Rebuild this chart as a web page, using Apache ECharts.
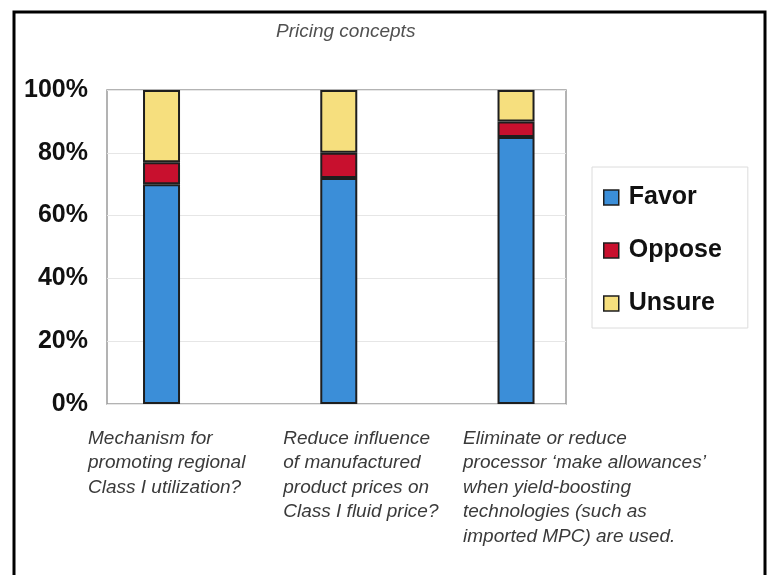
<!DOCTYPE html>
<html>
<head>
<meta charset="utf-8">
<script src="https://cdn.jsdelivr.net/npm/echarts@6/dist/echarts.min.js"></script>
<style>
  html, body { margin: 0; padding: 0; background: #fff; }
  #chart { width: 770px; height: 575px; }
</style>
</head>
<body>
<div id="chart"></div>
<script>
// Survey responses on three pricing concepts (percent of respondents)
const categories = [
  'Mechanism for\npromoting regional\nClass I utilization?',
  'Reduce influence\nof manufactured\nproduct prices on\nClass I fluid price?',
  'Eliminate or reduce\nprocessor \u2018make allowances\u2019\nwhen yield-boosting\ntechnologies (such as\nimported MPC) are used.'
];
const favor = [70, 72, 85];
const oppose = [7, 8, 5];
const unsure = [23, 20, 10];
const seriesNames = ['Favor', 'Oppose', 'Unsure'];
const yTicks = [0, 20, 40, 60, 80, 100];

const colors = ['#3b8ed8', '#c8102e', '#f6df7e'];
const boldFont = '"Liberation Sans", Arial, sans-serif';
const textFont = '"Liberation Sans", Arial, sans-serif';

// per-category label blocks: width controls where the left-aligned text starts
const labelWidths = [147, 111, 106];
const rich = {};
labelWidths.forEach((w, i) => {
  rich['c' + i] = {
    width: w,
    align: 'left',
    fontFamily: textFont,
    fontStyle: 'italic',
    fontSize: 19,
    lineHeight: 24.5,
    color: '#3a3a3a'
  };
});

const chart = echarts.init(document.getElementById('chart'), null, { renderer: 'canvas' });

const barSeries = [favor, oppose, unsure].map((data, i) => ({
  name: seriesNames[i],
  type: 'bar',
  stack: 'total',
  xAxisIndex: 1,
  yAxisIndex: 1,
  barWidth: 37,
  data: data,
  itemStyle: { color: colors[i], borderColor: '#1e1e1e', borderWidth: 2 }
}));

chart.setOption({
  backgroundColor: '#fff',
  animation: false,
  color: colors,
  title: {
    text: 'Pricing concepts',
    left: 271,
    top: 17,
    textStyle: {
      fontFamily: textFont,
      fontStyle: 'italic',
      fontWeight: 'normal',
      fontSize: 19,
      color: '#505050'
    }
  },
  graphic: [{
    type: 'rect',
    z: -1,
    shape: { x: 14, y: 12, width: 751, height: 620 },
    style: { fill: 'none', stroke: '#000', lineWidth: 3 }
  }],
  legend: {
    orient: 'vertical',
    left: 592,
    top: 167,
    icon: 'rect',
    itemWidth: 15,
    itemHeight: 15,
    itemGap: 28,
    padding: [18, 26, 12, 11],
    borderColor: '#dcdcdc',
    borderWidth: 1,
    backgroundColor: '#fff',
    itemStyle: { borderColor: '#1e1e1e', borderWidth: 1.5 },
    textStyle: {
      fontFamily: boldFont,
      fontWeight: 'bold',
      fontSize: 25,
      color: '#111',
      padding: [0, 0, 0, 5]
    },
    data: seriesNames
  },
  grid: [
    // frame with the percentage scale
    { left: 107, top: 90, right: 204, bottom: 171, show: true, borderColor: '#9a9a9a', borderWidth: 1.5, backgroundColor: '#fff' },
    // band layout for the bars and their category labels
    { left: 72.9, top: 90, width: 531.75, bottom: 171 }
  ],
  xAxis: [
    { gridIndex: 0, type: 'value', show: false, min: 0, max: 1 },
    {
      gridIndex: 1,
      type: 'category',
      data: categories,
      axisLine: { show: false },
      axisTick: { show: false },
      axisLabel: {
        interval: 0,
        margin: 22,
        formatter: (value, idx) => value.split('\n').map(l => '{c' + idx + '|' + l + '}').join('\n'),
        rich: rich
      }
    }
  ],
  yAxis: [
    {
      gridIndex: 0,
      type: 'value',
      min: yTicks[0],
      max: yTicks[yTicks.length - 1],
      interval: yTicks[1] - yTicks[0],
      axisLine: { show: false },
      axisTick: { show: false },
      splitLine: { lineStyle: { color: '#e6e6e6', width: 1 } },
      axisLabel: {
        margin: 19,
        formatter: '{value}%',
        fontFamily: boldFont,
        fontWeight: 'bold',
        fontSize: 25,
        color: '#111'
      }
    },
    { gridIndex: 1, type: 'value', min: 0, max: 100, show: false }
  ],
  series: barSeries
});
</script>
</body>
</html>
